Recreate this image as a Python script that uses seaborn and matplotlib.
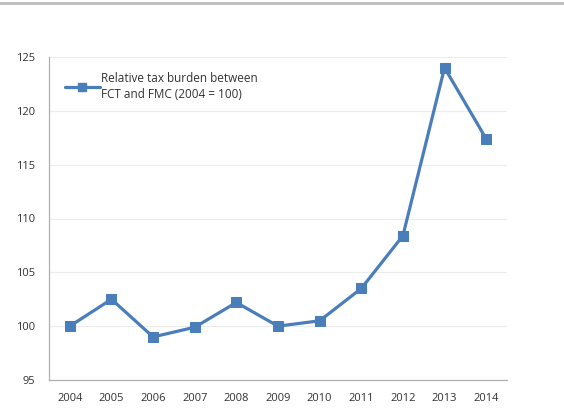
import matplotlib
matplotlib.use("Agg")
import matplotlib.pyplot as plt
import seaborn as sns
import pandas as pd
from matplotlib.lines import Line2D

years = [2004, 2005, 2006, 2007, 2008, 2009, 2010, 2011, 2012, 2013, 2014]
values = [100.0, 102.5, 99.0, 99.9, 102.2, 100.0, 100.5, 103.5, 108.4, 124.0, 117.4]
series_label = "Relative tax burden between\nFCT and FMC (2004 = 100)"
yticks = [95, 100, 105, 110, 115, 120, 125]

sns.set_style("white")
plt.rcParams['font.family'] = ['Open Sans', 'DejaVu Sans']

df = pd.DataFrame({"year": years, "value": values})

fig = plt.figure(figsize=(5.64, 4.16), dpi=100)
ax = fig.add_axes([49/564, 36/416, 458/564, 323/416])

color = "#4a7ebb"
sns.lineplot(data=df, x="year", y="value", ax=ax, color=color, linewidth=2.3,
             marker="s", markersize=6.5, markeredgecolor=color, markerfacecolor=color)

ax.set_xlim(2003.5, 2014.5)
ax.set_ylim(95, 125)
ax.set_yticks(yticks)
ax.set_xticks(years)
ax.set_xticklabels([str(y) for y in years])
ax.set_xticks([y + 0.5 for y in [2003] + years], minor=True)
ax.tick_params(axis='x', which='major', length=0, pad=9.5, labelsize=8, colors='#333333')
ax.tick_params(axis='x', which='minor', length=4, color='#aaaaaa', direction='out')
ax.tick_params(axis='y', which='major', length=4, color='#aaaaaa', direction='out',
               labelsize=8, colors='#333333', pad=6)
ax.set_xlabel("")
ax.set_ylabel("")
ax.grid(axis='y', color='#ececec', linewidth=0.8)
ax.set_axisbelow(True)
for s in ['top', 'right']:
    ax.spines[s].set_visible(False)
for s in ['left', 'bottom']:
    ax.spines[s].set_color('#b0b0b0')
    ax.spines[s].set_linewidth(0.9)

handle = Line2D([], [], color=color, linewidth=2.3, marker='s', markersize=6)
leg = ax.legend([handle], [series_label], loc='upper left', bbox_to_anchor=(0.024, 0.969),
                frameon=False, fontsize=8.5, handlelength=3.0, handletextpad=0.1,
                borderaxespad=0)
for t in leg.get_texts():
    t.set_color('#333333')
    t.set_linespacing(1.3)

# grey top rule
fig.add_artist(Line2D([0, 1], [1 - 3/416, 1 - 3/416], transform=fig.transFigure,
                      color='#bbbbbb', linewidth=2))

fig.savefig("out.png", dpi=100)
